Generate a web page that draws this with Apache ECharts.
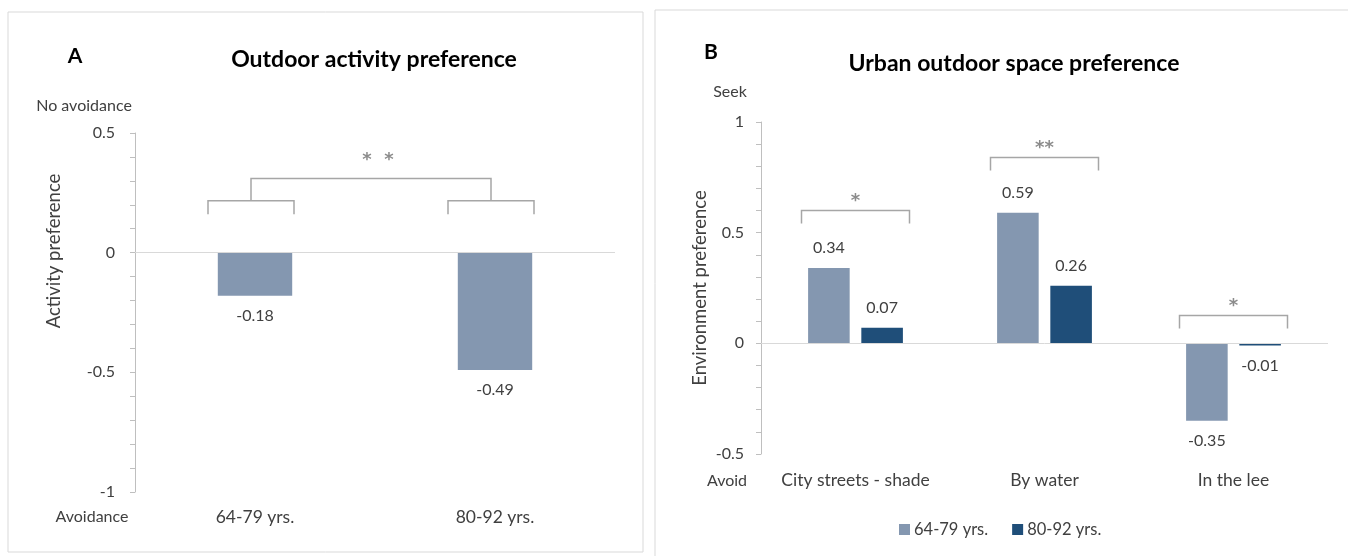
<!DOCTYPE html>
<html>
<head>
<meta charset="utf-8">
<script src="https://cdn.jsdelivr.net/npm/echarts@6/dist/echarts.min.js"></script>
<style>
  html, body { margin: 0; padding: 0; background: #fff; }
  #main { width: 1348px; height: 556px; }
</style>
</head>
<body>
<div id="main"></div>
<script>
// panel A: outdoor activity preference
const ageGroups = ["64-79 yrs.", "80-92 yrs."];
const activityPref = [-0.18, -0.49];

// panel B: urban outdoor space preference
const spaces = ["City streets - shade", "By water", "In the lee"];
const youngerPref = [0.34, 0.59, -0.35];
const olderPref = [0.07, 0.26, -0.01];

const FONT = "Lato, 'Open Sans', sans-serif";
const TEXT = "#404040";
const AXIS = "#BFBFBF";
const LIGHT = "#8497B0";
const DARK = "#1F4E79";

// put labels above positive bars and below negative ones
const withLabels = (vals) =>
	vals.map((v) => ({ value: v, label: { position: v < 0 ? "bottom" : "top" } }));

const valueAxis = (grid, min, max, margin) => ({
	type: "value",
	gridIndex: grid,
	min: min,
	max: max,
	interval: 0.5,
	axisLine: { show: true, lineStyle: { color: AXIS } },
	axisTick: { show: true, length: 5, lineStyle: { color: AXIS } },
	minorTick: { show: true, splitNumber: 5, length: 5, lineStyle: { color: AXIS } },
	splitLine: { show: false },
	axisLabel: { fontFamily: FONT, fontSize: 16, color: TEXT, margin: margin },
});

const catAxis = (grid, data, margin) => ({
	type: "category",
	gridIndex: grid,
	data: data,
	axisLine: { show: false, onZero: false },
	axisTick: { show: false },
	axisLabel: { interval: 0, fontFamily: FONT, fontSize: 17.5, color: TEXT, margin: margin },
});

const zeroLine = {
	silent: true,
	symbol: "none",
	label: { show: false },
	lineStyle: { color: "#D9D9D9", type: "solid", width: 1 },
	data: [{ yAxis: 0 }],
};

const barLabel = {
	show: true,
	distance: 12,
	fontFamily: FONT,
	fontSize: 16,
	color: TEXT,
};

const chart = echarts.init(document.getElementById("main"));

chart.setOption({
	animation: false,
	grid: [
		{ left: 135, width: 480, top: 133, height: 359 },
		{ left: 761, width: 567, top: 122, height: 332 },
	],
	xAxis: [catAxis(0, ageGroups, 16), catAxis(1, spaces, 17)],
	yAxis: [valueAxis(0, -1, 0.5, 20), valueAxis(1, -0.5, 1, 17)],
	legend: {
		data: ["64-79 yrs.", "80-92 yrs."],
		left: 894,
		top: 516,
		icon: "rect",
		itemWidth: 11,
		itemHeight: 11,
		itemGap: 24,
		textStyle: { fontFamily: FONT, fontSize: 16.5, color: TEXT, padding: [0, 0, 0, -1] },
	},
	series: [
		{
			name: "A",
			type: "bar",
			xAxisIndex: 0,
			yAxisIndex: 0,
			data: withLabels(activityPref),
			barWidth: "31%",
			itemStyle: { color: LIGHT },
			label: barLabel,
			markLine: zeroLine,
		},
		{
			name: "64-79 yrs.",
			type: "bar",
			xAxisIndex: 1,
			yAxisIndex: 1,
			data: withLabels(youngerPref),
			barWidth: "22%",
			barGap: "28%",
			itemStyle: { color: LIGHT },
			label: barLabel,
			markLine: zeroLine,
		},
		{
			name: "80-92 yrs.",
			type: "bar",
			xAxisIndex: 1,
			yAxisIndex: 1,
			data: withLabels(olderPref),
			barWidth: "22%",
			barGap: "28%",
			itemStyle: { color: DARK },
			label: barLabel,
		},
	],
});

// significance brackets, placed from the axes' own scales
const px = (g, cat, v) => chart.convertToPixel({ xAxisIndex: g, yAxisIndex: g }, [cat, v]);
const bracketStyle = { stroke: "#A6A6A6", lineWidth: 1.5, fill: null };

function bracket(x1, x2, yTop, yLeg) {
	return {
		type: "polyline",
		shape: { points: [[x1, yLeg], [x1, yTop], [x2, yTop], [x2, yLeg]] },
		style: bracketStyle,
		silent: true,
	};
}
function stars(x, y, s) {
	return {
		type: "text",
		x: x,
		y: y + 5,
		style: { text: s, fontFamily: "'DejaVu Sans', sans-serif", fontSize: 18, fontWeight: "bold", fill: "#8C8C8C", align: "center", verticalAlign: "middle" },
		silent: true,
	};
}
function label(x, y, s, size, weight, rotate) {
	return {
		type: "text",
		x: x,
		y: y,
		rotation: rotate ? Math.PI / 2 : 0,
		style: {
			text: s,
			fontFamily: FONT,
			fontSize: size,
			fontWeight: weight || "normal",
			fill: weight === "bold" ? "#000" : TEXT,
			align: "center",
			verticalAlign: "middle",
		},
		silent: true,
	};
}

const graphics = [
	{ type: "rect", shape: { x: 8, y: 12, width: 635, height: 540 }, style: { stroke: "#D9D9D9", fill: null, lineWidth: 1 }, silent: true },
	{ type: "rect", shape: { x: 655, y: 10, width: 700, height: 550 }, style: { stroke: "#D9D9D9", fill: null, lineWidth: 1 }, silent: true },
	label(75, 56, "A", 21, "bold"),
	label(374, 60, "Outdoor activity preference", 23, "bold"),
	label(84, 106, "No avoidance", 16),
	label(92, 517, "Avoidance", 16),
	label(54, 251, "Activity preference", 18.5, null, true),
	label(711, 52, "B", 21, "bold"),
	label(1014, 64, "Urban outdoor space preference", 23, "bold"),
	label(730, 92, "Seek", 16),
	label(727, 481, "Avoid", 16),
	label(700, 288, "Environment preference", 18.5, null, true),
];

// panel A: nested brackets between the age groups
const a0 = px(0, 0, 0.217), a1 = px(0, 1, 0.217);
const aLeg = px(0, 0, 0.16)[1];
const aTop = px(0, 0, 0.31)[1];
const ax0 = a0[0] - 4, ax1 = a1[0] - 4;
graphics.push(bracket(ax0 - 43, ax0 + 43, a0[1], aLeg));
graphics.push(bracket(ax1 - 43, ax1 + 43, a1[1], aLeg));
graphics.push(bracket(ax0, ax1, aTop, a0[1]));
graphics.push(stars((ax0 + ax1) / 2 + 7, aTop - 23, "*  *"));

// panel B: one bracket per outdoor space
const bLevels = [0.6, 0.84, 0.126];
const bMarks = ["*", "**", "*"];
spaces.forEach((s, i) => {
	const p = px(1, i, bLevels[i]);
	graphics.push(bracket(p[0] - 54, p[0] + 54, p[1], p[1] + 13));
	graphics.push(stars(p[0], p[1] - 14, bMarks[i]));
});

chart.setOption({ graphic: graphics });
</script>
</body>
</html>
